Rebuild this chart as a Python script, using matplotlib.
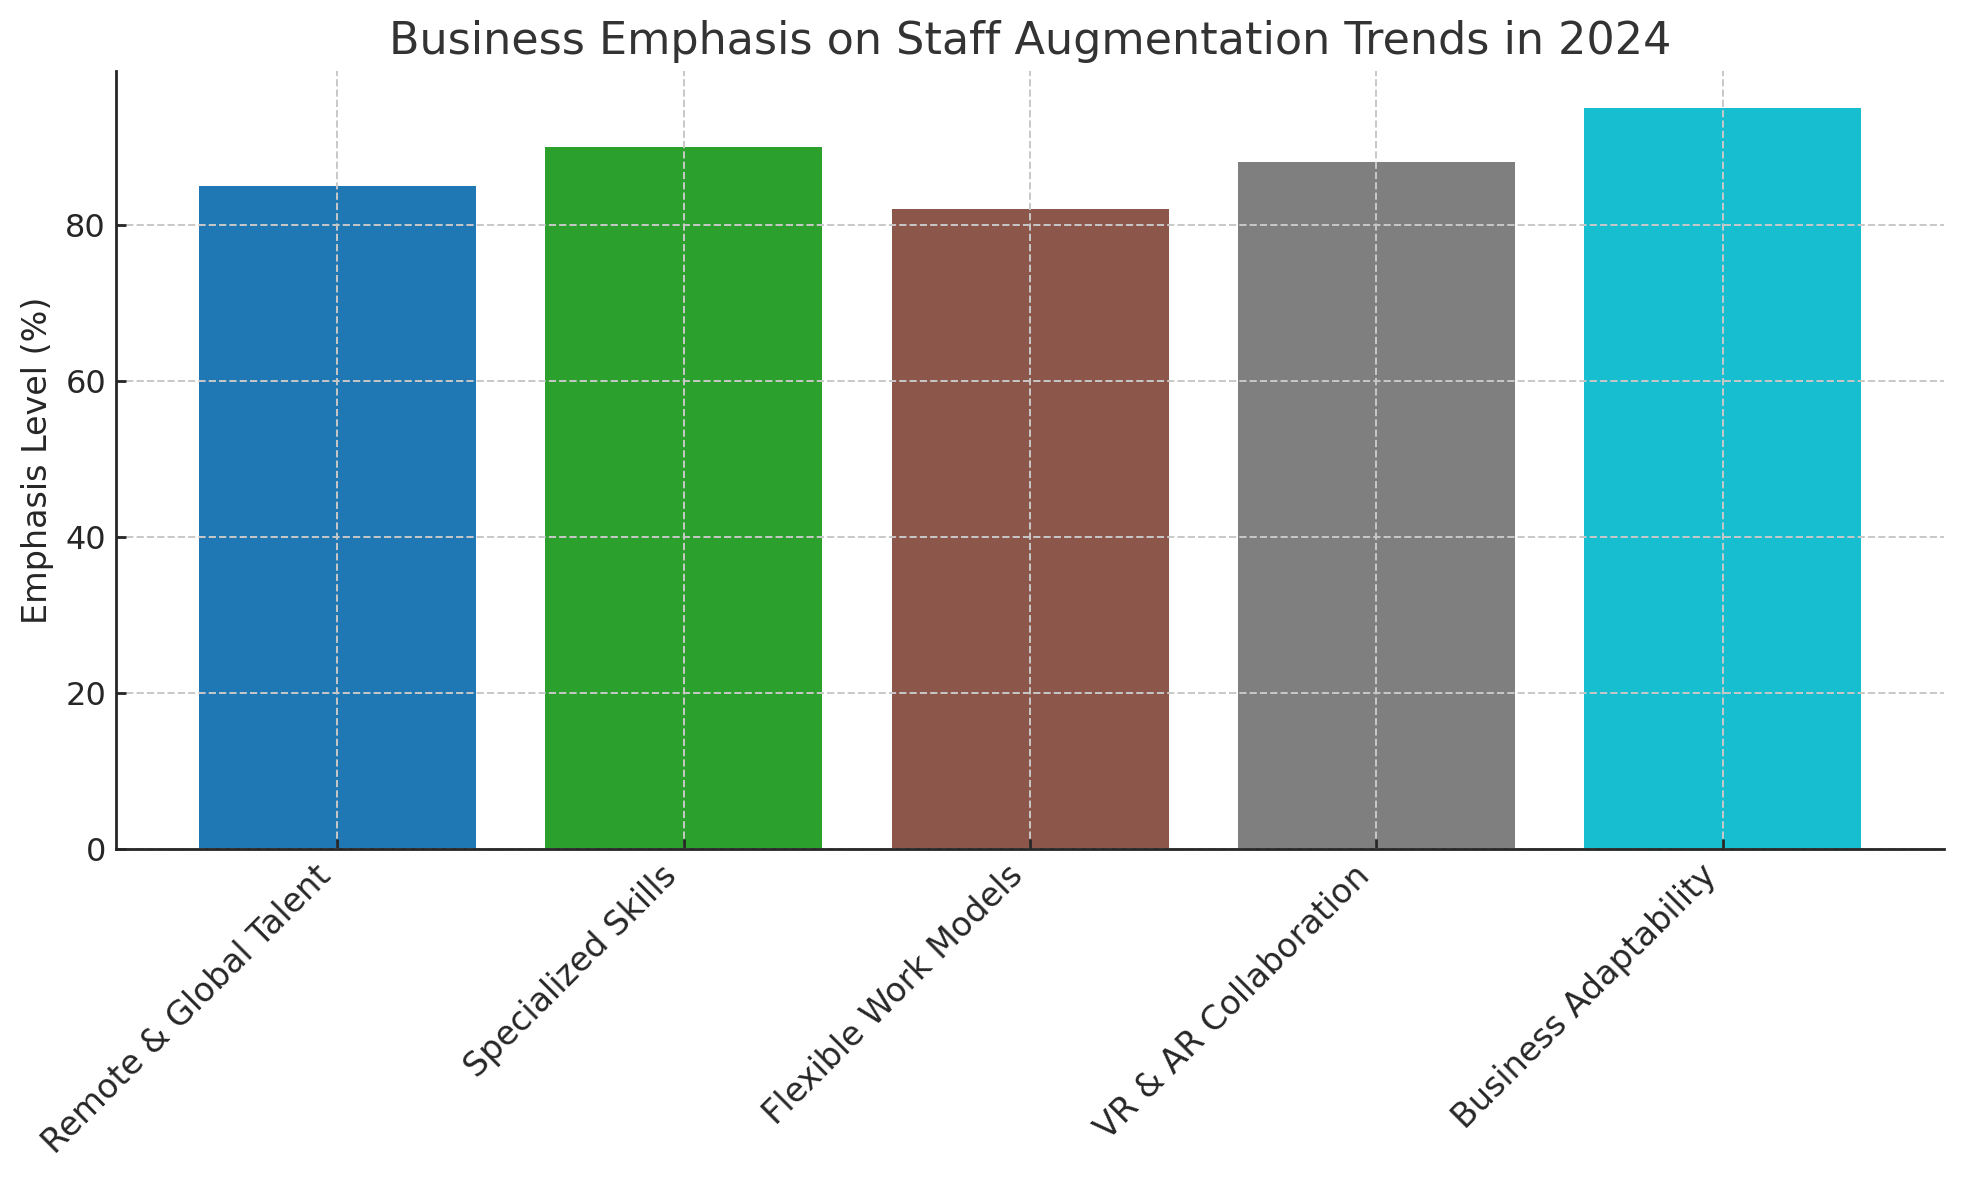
import numpy as np
import matplotlib.pyplot as plt

# chart data
categories = ['Remote & Global Talent', 'Specialized Skills', 'Flexible Work Models',
              'VR & AR Collaboration', 'Business Adaptability']
emphasis = [85, 90, 82, 88, 95]

colors = plt.cm.tab10(np.linspace(0, 1, len(categories)))

fig = plt.figure(figsize=(9.815, 5.9), dpi=200)
ax = fig.add_axes([0.059, 0.2805, 0.9315, 0.6595])

ax.bar(categories, emphasis, color=colors, width=0.8)
ax.set_ylim(0, 99.75)

ax.set_title('Business Emphasis on Staff Augmentation Trends in 2024',
             fontsize=16, color='#333333')
ax.set_ylabel('Emphasis Level (%)', fontsize=12, color='#262626')

ax.grid(True, linestyle='--', color='#c8c8c8', linewidth=0.7)
ax.set_axisbelow(False)
for s in ['top', 'right']:
    ax.spines[s].set_visible(False)
for s in ['left', 'bottom']:
    ax.spines[s].set_color('#262626')
    ax.spines[s].set_linewidth(1.0)
    ax.spines[s].set_zorder(3)

ax.tick_params(direction='in', length=3.5, width=1, colors='#262626')
ax.tick_params(axis='y', labelsize=11.5)
ax.tick_params(axis='x', labelsize=12)
plt.setp(ax.get_xticklabels(), rotation=45, ha='right')

fig.savefig('out.png', dpi=200)
